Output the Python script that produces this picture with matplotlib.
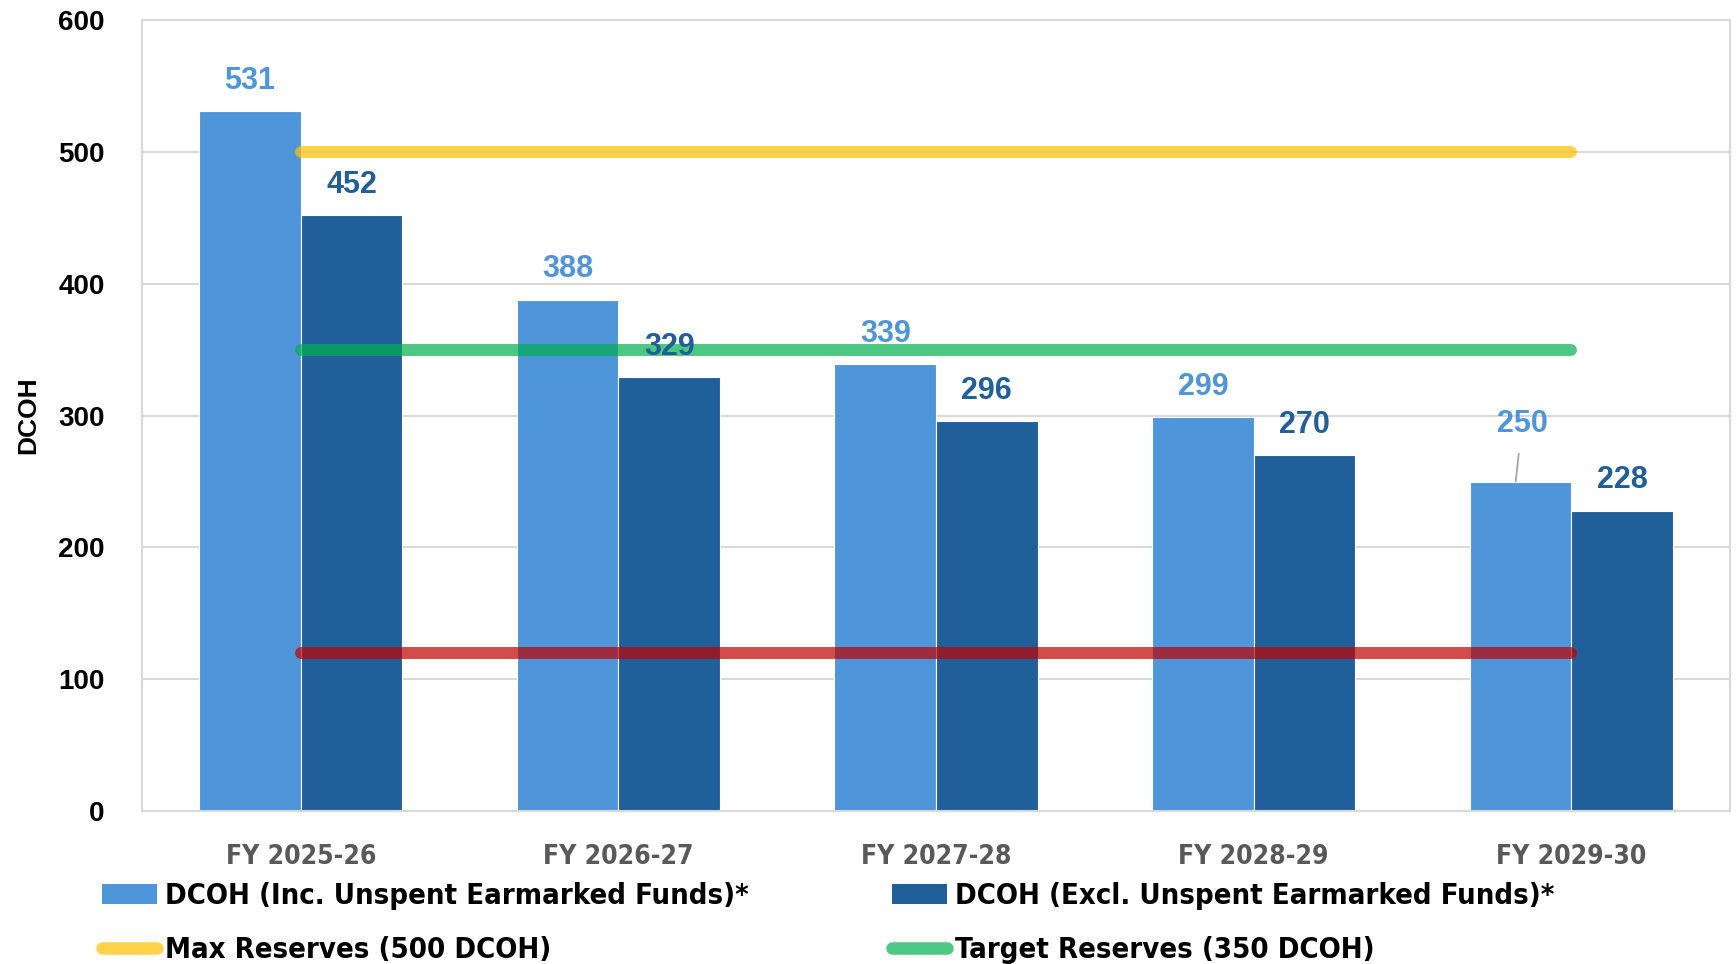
import numpy as np
import matplotlib.pyplot as plt
from matplotlib.patches import Patch
from matplotlib.lines import Line2D
from matplotlib import font_manager as fm

years = ["FY 2025-26", "FY 2026-27", "FY 2027-28", "FY 2028-29", "FY 2029-30"]
dcoh_inc = [531, 388, 339, 299, 250]
dcoh_excl = [452, 329, 296, 270, 228]
max_reserves = 500
target_reserves = 350
min_reserves = 120

c_light = "#4F95D9"
c_dark = "#215F9A"
c_yellow = "#FFC000"
c_green = "#00B050"
c_red = "#C00000"
bold_sans = ["Liberation Sans", "DejaVu Sans"]

# condensed bold face for the category and legend text
all_fonts = fm.findSystemFonts()
cond_files = [f for f in all_fonts if "dejavusanscondensed-bold.ttf" in f.lower()]
if not cond_files:
    cond_files = [f for f in all_fonts if "condensed-bold" in f.lower()
                  and "oblique" not in f.lower()]
if cond_files:
    narrow_prop = fm.FontProperties(fname=cond_files[0])
else:
    narrow_prop = fm.FontProperties(family="DejaVu Sans", stretch="condensed", weight="bold")

fig = plt.figure(figsize=(17.36, 9.64), dpi=100)
ax = fig.add_axes([0.0818, 0.1587, 0.9148, 0.8203])

x = np.arange(len(years))
w = 0.32
ax.bar(x - w / 2, dcoh_inc, w, color=c_light, edgecolor="white", linewidth=0.8, zorder=2)
ax.bar(x + w / 2, dcoh_excl, w, color=c_dark, edgecolor="white", linewidth=0.8, zorder=2)

# reserve lines, drawn from first to last group centre
for val, col in [(max_reserves, c_yellow), (target_reserves, c_green), (min_reserves, c_red)]:
    ax.plot([x[0], x[-1]], [val, val], color=col, lw=8.6, alpha=0.7,
            solid_capstyle="round", zorder=3)

# data labels
for i in range(len(years)):
    if i == len(years) - 1:
        ax.annotate(str(dcoh_inc[i]), xy=(x[i] - w / 2 - 0.015, dcoh_inc[i]),
                    xytext=(x[i] - w / 2 + 0.005, dcoh_inc[i] + 44),
                    ha="center", va="center", fontsize=22, fontweight="bold",
                    color=c_light, family=bold_sans, zorder=4,
                    arrowprops=dict(arrowstyle="-", color="#A6A6A6", lw=1.3,
                                    shrinkA=9, shrinkB=0))
    else:
        ax.text(x[i] - w / 2, dcoh_inc[i] + 23, str(dcoh_inc[i]), ha="center", va="center",
                fontsize=22, fontweight="bold", color=c_light, family=bold_sans, zorder=4)
    ax.text(x[i] + w / 2, dcoh_excl[i] + 23, str(dcoh_excl[i]), ha="center", va="center",
            fontsize=22, fontweight="bold", color=c_dark, family=bold_sans, zorder=4)

ax.set_xlim(-0.5, 4.5)
ax.set_ylim(0, 600)
ax.set_yticks(range(0, 601, 100))
ax.yaxis.grid(True, color="#D9D9D9", lw=1.5, zorder=0)
ax.set_axisbelow(True)
for s in ax.spines.values():
    s.set_color("#D9D9D9")
    s.set_linewidth(1.5)
ax.tick_params(length=0)
ax.tick_params(axis="y", pad=27)
ax.tick_params(axis="x", pad=24)
ax.set_xticks(x)
ax.set_xticklabels(years, color="#595959")
for lab in ax.get_xticklabels():
    lab.set_fontproperties(narrow_prop)
    lab.set_fontsize(19)
for lab in ax.get_yticklabels():
    lab.set_fontsize(20)
    lab.set_fontweight("bold")
    lab.set_family(bold_sans)
ax.set_ylabel("DCOH", fontsize=19, fontweight="bold", family=bold_sans)
ax.yaxis.set_label_coords(-0.064, 0.5)

leg_prop = narrow_prop.copy()
leg_prop.set_size(21)
kw = dict(loc="upper left", frameon=False, handlelength=1.9,
          handletextpad=0.25, labelspacing=0.9, borderaxespad=0, borderpad=0,
          prop=leg_prop)
col1 = [Patch(facecolor=c_light, label="DCOH (Inc. Unspent Earmarked Funds)*"),
        Line2D([], [], color=c_yellow, lw=9, alpha=0.7, solid_capstyle="round",
               label="Max Reserves (500 DCOH)")]
col2 = [Patch(facecolor=c_dark, label="DCOH (Excl. Unspent Earmarked Funds)*"),
        Line2D([], [], color=c_green, lw=9, alpha=0.7, solid_capstyle="round",
               label="Target Reserves (350 DCOH)")]
fig.legend(handles=col1, bbox_to_anchor=(102 / 1736, 1 - 882 / 964), **kw)
fig.legend(handles=col2, bbox_to_anchor=(892 / 1736, 1 - 882 / 964), **kw)

fig.savefig("out.png", dpi=100)
